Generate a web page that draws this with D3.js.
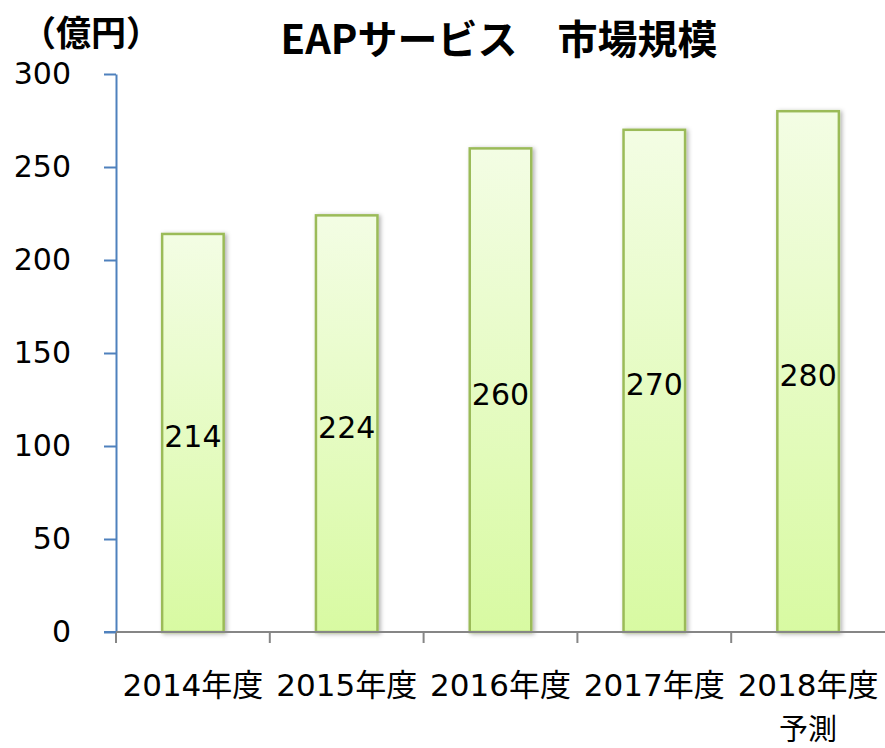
<!DOCTYPE html>
<html>
<head>
<meta charset="utf-8">
<script src="https://cdn.jsdelivr.net/npm/d3@7"></script>
<style>
  body { margin: 0; background: #fff; }
  svg { display: block; font-family: "DejaVu Sans", "Noto Sans CJK JP", sans-serif; }
</style>
</head>
<body>
<div id="chart"></div>
<script>
const years = ["2014年度", "2015年度", "2016年度", "2017年度", "2018年度"];
const subLabels = ["", "", "", "", "予測"];
const marketSize = [214, 224, 260, 270, 280];
const yTicks = [0, 50, 100, 150, 200, 250, 300];

const width = 885, height = 748;
const plotLeft = 116, plotRight = 885, plotTop = 74, plotBottom = 632;

const svg = d3.select("#chart").append("svg")
  .attr("width", width)
  .attr("height", height);

const defs = svg.append("defs");
const grad = defs.append("linearGradient")
  .attr("id", "barFill")
  .attr("x1", 0).attr("y1", 0).attr("x2", 0).attr("y2", 1);
grad.append("stop").attr("offset", "0%").attr("stop-color", "#f3fde4");
grad.append("stop").attr("offset", "100%").attr("stop-color", "#d8faa2");

const shadow = defs.append("filter").attr("id", "shadow")
  .attr("x", "-20%").attr("y", "-5%").attr("width", "150%").attr("height", "115%");
shadow.append("feDropShadow")
  .attr("dx", 2).attr("dy", 1).attr("stdDeviation", 2)
  .attr("flood-color", "#000").attr("flood-opacity", 0.3);

const x = d3.scaleBand().domain(years).range([plotLeft, plotRight]).paddingInner(0.6).paddingOuter(0.3);
const y = d3.scaleLinear().domain([0, 300]).range([plotBottom, plotTop]);

// bars
svg.append("g").selectAll("rect")
  .data(marketSize)
  .join("rect")
  .attr("x", (d, i) => x(years[i]))
  .attr("y", d => y(d))
  .attr("width", x.bandwidth())
  .attr("height", d => y(0) - y(d))
  .attr("fill", "url(#barFill)")
  .attr("stroke", "#9bbb59")
  .attr("stroke-width", 2.5)
  .attr("filter", "url(#shadow)");

// value labels, centred in each bar
svg.append("g").selectAll("text")
  .data(marketSize)
  .join("text")
  .attr("x", (d, i) => x(years[i]) + x.bandwidth() / 2)
  .attr("y", d => y(d / 2))
  .attr("dy", "0.48em")
  .attr("text-anchor", "middle")
  .style("font-size", "30px")
  .style("fill", "#000")
  .text(d => d);

// y axis
const yAxis = svg.append("g")
  .attr("transform", `translate(${plotLeft},0)`)
  .call(d3.axisLeft(y).tickValues(yTicks).tickSize(12).tickPadding(33).tickSizeOuter(0));
yAxis.select(".domain").attr("stroke", "#4f81bd").attr("stroke-width", 2);
yAxis.selectAll(".tick line").attr("stroke", "#4f81bd").attr("stroke-width", 2);
yAxis.selectAll(".tick text")
  .style("font-size", "30px")
  .style("font-family", "DejaVu Sans, sans-serif")
  .attr("fill", "#000");

// x axis: ticks at category boundaries
const step = x.step();
const boundaries = d3.range(years.length).map(i => plotLeft + i * step);
const xAxis = svg.append("g").attr("transform", `translate(0,${plotBottom})`);
xAxis.append("line")
  .attr("x1", plotLeft - 12).attr("x2", plotRight)
  .attr("stroke", "#868686").attr("stroke-width", 2);
xAxis.selectAll(".bt")
  .data(boundaries)
  .join("line")
  .attr("class", "bt")
  .attr("x1", d => d).attr("x2", d => d)
  .attr("y1", 0).attr("y2", 11)
  .attr("stroke", "#868686").attr("stroke-width", 2);
// blue zero tick on top of gray line
svg.append("line")
  .attr("x1", plotLeft - 12).attr("x2", plotLeft)
  .attr("y1", plotBottom).attr("y2", plotBottom)
  .attr("stroke", "#4f81bd").attr("stroke-width", 2);

svg.append("g").selectAll("text")
  .data(years)
  .join("text")
  .attr("x", d => x(d) + x.bandwidth() / 2)
  .attr("y", 696)
  .attr("text-anchor", "middle")
  .style("font-size", "31px")
  .text(d => d);

svg.append("g").selectAll("text")
  .data(subLabels)
  .join("text")
  .attr("x", (d, i) => x(years[i]) + x.bandwidth() / 2)
  .attr("y", 740)
  .attr("text-anchor", "middle")
  .style("font-size", "29px")
  .style("font-family", "Noto Sans CJK JP, sans-serif")
  .text(d => d);

// titles
svg.append("text")
  .attr("x", 499)
  .attr("y", 54)
  .attr("text-anchor", "middle")
  .style("font-size", "40px")
  .style("font-weight", "bold")
  .style("font-family", "Noto Sans CJK JP, sans-serif")
  .text("EAPサービス　市場規模");

svg.append("text")
  .attr("x", 91)
  .attr("y", 46)
  .attr("text-anchor", "middle")
  .style("font-size", "35px")
  .style("font-weight", "bold")
  .style("font-family", "Noto Sans CJK JP, sans-serif")
  .text("（億円）");
</script>
</body>
</html>
